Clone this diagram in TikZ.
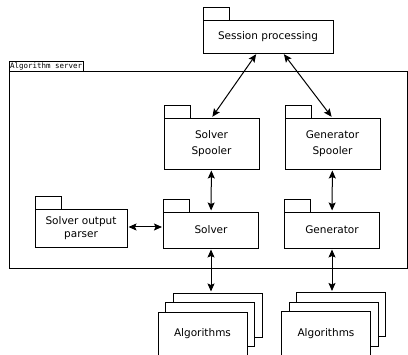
\documentclass[tikz,border=0pt]{standalone}
\usepackage{fontspec}
\setmainfont{DejaVu Sans}
\setmonofont{DejaVu Sans Mono}
\usetikzlibrary{arrows.meta}
\tikzset{
  pkg/.style={draw, line width=0.9pt, fill=white, outer sep=0pt, minimum width=95pt,
    inner sep=2pt, align=center, font=\fontsize{10.5}{13.5}\selectfont},
  pkgtab/.style={draw, line width=0.9pt, outer sep=0pt, minimum width=26pt,
    minimum height=13pt, inner sep=0pt, anchor=south west},
  card/.style={draw, line width=0.9pt, fill=white, outer sep=0pt, minimum width=89pt,
    minimum height=44pt, anchor=north west, font=\fontsize{10.5}{13.5}\selectfont},
  link/.style={{Stealth[length=8pt,width=7pt,inset=1.5pt]}-{Stealth[length=8pt,width=7pt,inset=1.5pt]},
    line width=1pt, shorten >=1.5pt, shorten <=1.5pt}
}
\begin{document}
\begin{tikzpicture}[x=1pt,y=-1pt]
  \useasboundingbox (0,0) rectangle (408,355);
  % outer package
  \node[draw, line width=0.9pt, outer sep=0pt, minimum width=398pt, minimum height=196.5pt,
    anchor=north west] (server) at (9,71.5) {};
  \node[draw, line width=0.9pt, outer sep=0pt, inner xsep=1pt, inner ysep=1.5pt,
    anchor=south west, font=\ttfamily\fontsize{7.5}{9}\selectfont]
    (serverlabel) at (server.north west) {Algorithm server};
  % packages
  \node[pkg, minimum width=130pt, minimum height=33pt] (session) at (268,36.5) {Session processing};
  \node[pkgtab] (sessiontab) at (session.north west) {};
  \node[pkg, minimum height=51pt] (solversp) at (211.5,143.5) {Solver\\[2pt]Spooler};
  \node[pkgtab] (solversptab) at (solversp.north west) {};
  \node[pkg, minimum height=51pt] (gensp) at (332.5,143.5) {Generator\\[2pt]Spooler};
  \node[pkgtab] (gensptab) at (gensp.north west) {};
  \node[pkg, minimum height=36pt] (solver) at (211,230) {Solver};
  \node[pkgtab] (solvertab) at (solver.north west) {};
  \node[pkg, minimum height=36pt] (gen) at (332,230) {Generator};
  \node[pkgtab] (gentab) at (gen.north west) {};
  \node[pkg, minimum width=92pt, minimum height=38pt] (parser) at (81,228) {Solver output\\parser};
  \node[pkgtab] (parsertab) at (parser.north west) {};
  % algorithm stacks
  \foreach \n/\x/\y in {algl/158/312, algr/281.5/311.5} {
    \foreach \k/\d in {3/2, 2/1}
      \node[card] (\n\k) at (\x+7.5*\d, \y-9.5*\d) {};
  }
  \node[card] (algl1) at (158,312) {Algorithms};
  \node[card] (algr1) at (281.5,311.5) {Algorithms};
  % links
  \draw[link] ([xshift=-11pt]session.south) -- (solversp.north);
  \draw[link] ([xshift=15pt]session.south) -- (gensp.north);
  \draw[link] (solversp) -- (solver);
  \draw[link] (gensp) -- (gen);
  \draw[link] ([yshift=1pt]parser.east) -- ([yshift=1pt]parser.east -| solver.west);
  \draw[link] (solver.south) -- (solver.south |- algl3.north);
  \draw[link] (gen.south) -- (gen.south |- algr3.north);
\end{tikzpicture}
\end{document}
